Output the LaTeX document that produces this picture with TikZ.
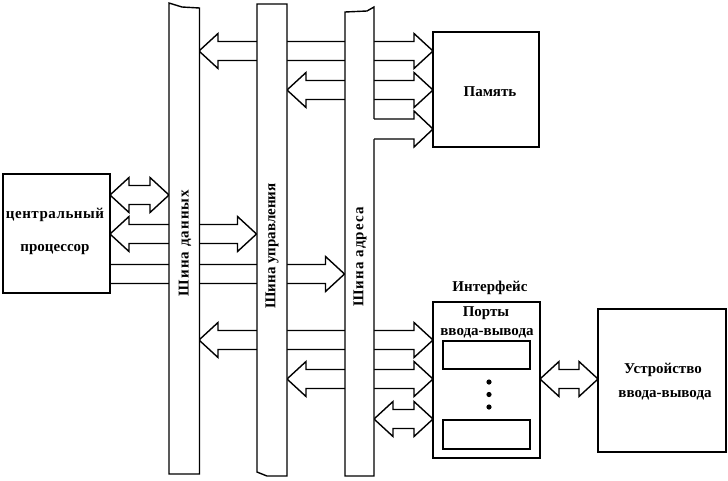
\documentclass[tikz,border=0pt]{standalone}
\usepackage{fontspec}
\setmainfont{Liberation Serif}
\tikzset{
  ln/.style={line width=1.4pt, line join=miter},
  blk/.style={ln, draw=black, fill=white},
  box/.style={ln, draw=black, fill=white, rectangle, inner sep=0pt},
  lbl/.style={font=\fontsize{15}{17}\selectfont\bfseries, inner sep=0pt},
  wide/.style={font=\fontsize{15}{17}\selectfont\bfseries\addfontfeature{LetterSpace=7}},
  semiwide/.style={font=\fontsize{15}{17}\selectfont\bfseries\addfontfeature{LetterSpace=3.5}},
}
% double block arrow: tip x1, tip x2, centre y
\newcommand\dbarr[3]{%
  \draw[blk] (#1,#3) -- ({#1+19},{#3-17.5}) -- ({#1+19},{#3-9.5}) -- ({#2-19},{#3-9.5})
    -- ({#2-19},{#3-17.5}) -- (#2,#3) -- ({#2-19},{#3+17.5}) -- ({#2-19},{#3+9.5})
    -- ({#1+19},{#3+9.5}) -- ({#1+19},{#3+17.5}) -- cycle;}
% single block arrow to the right: flat start x1, tip x2, centre y
\newcommand\rarr[3]{%
  \draw[blk] (#1,{#3-9.5}) -- ({#2-19},{#3-9.5}) -- ({#2-19},{#3-17.5}) -- (#2,#3)
    -- ({#2-19},{#3+17.5}) -- ({#2-19},{#3+9.5}) -- (#1,{#3+9.5}) -- cycle;}
\begin{document}
\begin{tikzpicture}[x=1pt,y=-1pt]
\useasboundingbox (0,0) rectangle (728,480);
\fill[white] (0,0) rectangle (728,480);

% arrows that pass behind the buses
\dbarr{199}{433}{51}
\dbarr{287}{433}{90}
\dbarr{110}{169}{195}
\dbarr{110}{256.5}{234}
\rarr{110}{344.5}{274}
\dbarr{199}{433}{340}
\dbarr{287}{433}{379}
\dbarr{374}{433}{419}
\dbarr{540}{598}{379}

% buses
\draw[blk] (169,3) -- (182,7) -- (199.5,8) -- (199.5,474) -- (169,474) -- cycle;
\draw[blk] (257,4) -- (287,4) -- (287,476) -- (267,476) -- (257,472) -- cycle;
\draw[blk] (345,12) -- (367,11) -- (374,7) -- (374,476) -- (345,476) -- cycle;
\node[lbl, wide, rotate=90] (dbus) at (185,243) {Шина данных};
\node[lbl, rotate=90] (cbus) at (272,246) {Шина управления};
\node[lbl, wide, rotate=90] (abus) at (360,257) {Шина адреса};

% address bus -> memory (leaves the bus itself)
\fill[white] (372,119) -- (414,119) -- (414,111) -- (433,129) -- (414,147) -- (414,139) -- (372,139) -- cycle;
\draw[ln] (374,119) -- (414,119) -- (414,111) -- (433,129) -- (414,147) -- (414,139) -- (374,139);

% boxes
\node[box, minimum width=107, minimum height=119] (cpu) at (56.5,233.5) {};
\node[lbl, semiwide] (cpu1) at (55,215) {центральный};
\node[lbl] (cpu2) at (55,250) {процессор};

\node[box, minimum width=106, minimum height=115] (mem) at (486,89.5) {};
\node[lbl] (memt) at (490,92) {Память};

\node[box, minimum width=107, minimum height=156] (intf) at (486.5,380) {};
\node[lbl] (intft) at (490,288) {Интерфейс};
\node[lbl] (port1) at (486,313) {Порты};
\node[lbl] (port2) at (487,333) {ввода-вывода};
\node[box, minimum width=87, minimum height=28] (reg1) at (486.5,355) {};
\node[box, minimum width=87, minimum height=29] (reg2) at (486.5,434.5) {};
\fill (489,382) circle (2.6) (489,394.5) circle (2.6) (489,407) circle (2.6);

\node[box, minimum width=128, minimum height=143] (dev) at (662,380.5) {};
\node[lbl] (dev1) at (663,370) {Устройство};
\node[lbl] (dev2) at (665,395) {ввода-вывода};
\end{tikzpicture}
\end{document}
